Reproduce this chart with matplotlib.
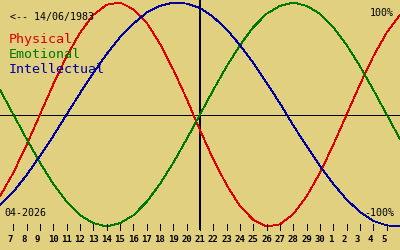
import matplotlib
matplotlib.use("Agg")
import matplotlib.pyplot as plt

# ---- data ----
# x positions: day index counted from 1 April 2026 (31 = 1 May)
days = [6, 7, 8, 9, 10, 11, 12, 13, 14, 15, 16, 17, 18, 19, 20, 21,
        22, 23, 24, 25, 26, 27, 28, 29, 30, 31, 32, 33, 34, 35, 36]
physical = [-0.73, -0.52, -0.27, 0.00, 0.27, 0.52, 0.73, 0.89, 0.98, 1.00,
            0.94, 0.82, 0.63, 0.40, 0.14, -0.14, -0.40, -0.63, -0.82, -0.94,
            -1.00, -0.98, -0.89, -0.73, -0.52, -0.27, 0.00, 0.27, 0.52, 0.73, 0.89]
emotional = [0.22, 0.00, -0.22, -0.43, -0.62, -0.78, -0.90, -0.97, -1.00, -0.97,
             -0.90, -0.78, -0.62, -0.43, -0.22, 0.00, 0.22, 0.43, 0.62, 0.78,
             0.90, 0.97, 1.00, 0.97, 0.90, 0.78, 0.62, 0.43, 0.22, 0.00, -0.22]
intellectual = [-0.81, -0.69, -0.54, -0.37, -0.19, 0.00, 0.19, 0.37, 0.54, 0.69,
                0.81, 0.91, 0.97, 1.00, 0.99, 0.95, 0.87, 0.76, 0.62, 0.46,
                0.28, 0.10, -0.10, -0.28, -0.46, -0.62, -0.76, -0.87, -0.95, -0.99, -1.00]
tick_days = list(range(7, 36))
tick_labels = [str(d) for d in range(7, 31)] + [str(d) for d in range(1, 6)]
today = 21
birth_text = "<-- 14/06/1983"
month_text = "04-2026"
series_names = ["Physical", "Emotional", "Intellectual"]

# ---- style ----
W, H = 400, 250
BG = "#e0d080"
RED, GREEN, BLUE = "#dd0000", "#007800", "#0000a0"
MONO = "DejaVu Sans Mono"
Y0, AMP = 114.5, 112.0      # pixel row of zero, pixels per unit
PX_PER_DAY = 400 / 30.0


def v_of_px(py):
    return (Y0 - py) / AMP


fig = plt.figure(figsize=(W / 100, H / 100), dpi=100)
fig.patch.set_facecolor(BG)
ax = fig.add_axes([0, 0, 1, 1])
ax.set_facecolor(BG)
ax.set_xlim(6, 36)
ax.set_ylim(v_of_px(H), v_of_px(0))
ax.axis("off")

lw = 0.72
clw = 0.6
# zero line and today line
ax.axhline(0, color="black", lw=lw, antialiased=False)
ax.vlines(today, v_of_px(230), v_of_px(0), color="black", lw=1.1, antialiased=False)

# curves
ax.plot(days, physical, color=RED, lw=clw, antialiased=False)
ax.plot(days, emotional, color=GREEN, lw=clw, antialiased=False)
ax.plot(days, intellectual, color=BLUE, lw=clw, antialiased=False)

# day ticks
ax.vlines(tick_days, v_of_px(230), v_of_px(224), color="black", lw=lw, antialiased=False)
for d, lab in zip(tick_days, tick_labels):
    ax.text(d - 5.5 / PX_PER_DAY, v_of_px(241.5), lab, ha="left", va="baseline",
            family=MONO, fontsize=6.5, fontweight="bold", color="black")


def ftext(px, py, s, **kw):
    fig.text(px / W, 1 - py / H, s, va="baseline", family=MONO, **kw)


ftext(10, 20, birth_text, fontsize=7.2, color="black")
ftext(9, 43, series_names[0], fontsize=9.6, color=RED)
ftext(9, 58, series_names[1], fontsize=9.6, color=GREEN)
ftext(9, 73, series_names[2], fontsize=9.6, color=BLUE)
ftext(394, 16, "100%", fontsize=7.2, color="black", ha="right")
ftext(394, 216, "-100%", fontsize=7.2, color="black", ha="right")
ftext(4, 216, month_text, fontsize=7.2, color="black")

fig.savefig("out.png", dpi=100, facecolor=BG)
